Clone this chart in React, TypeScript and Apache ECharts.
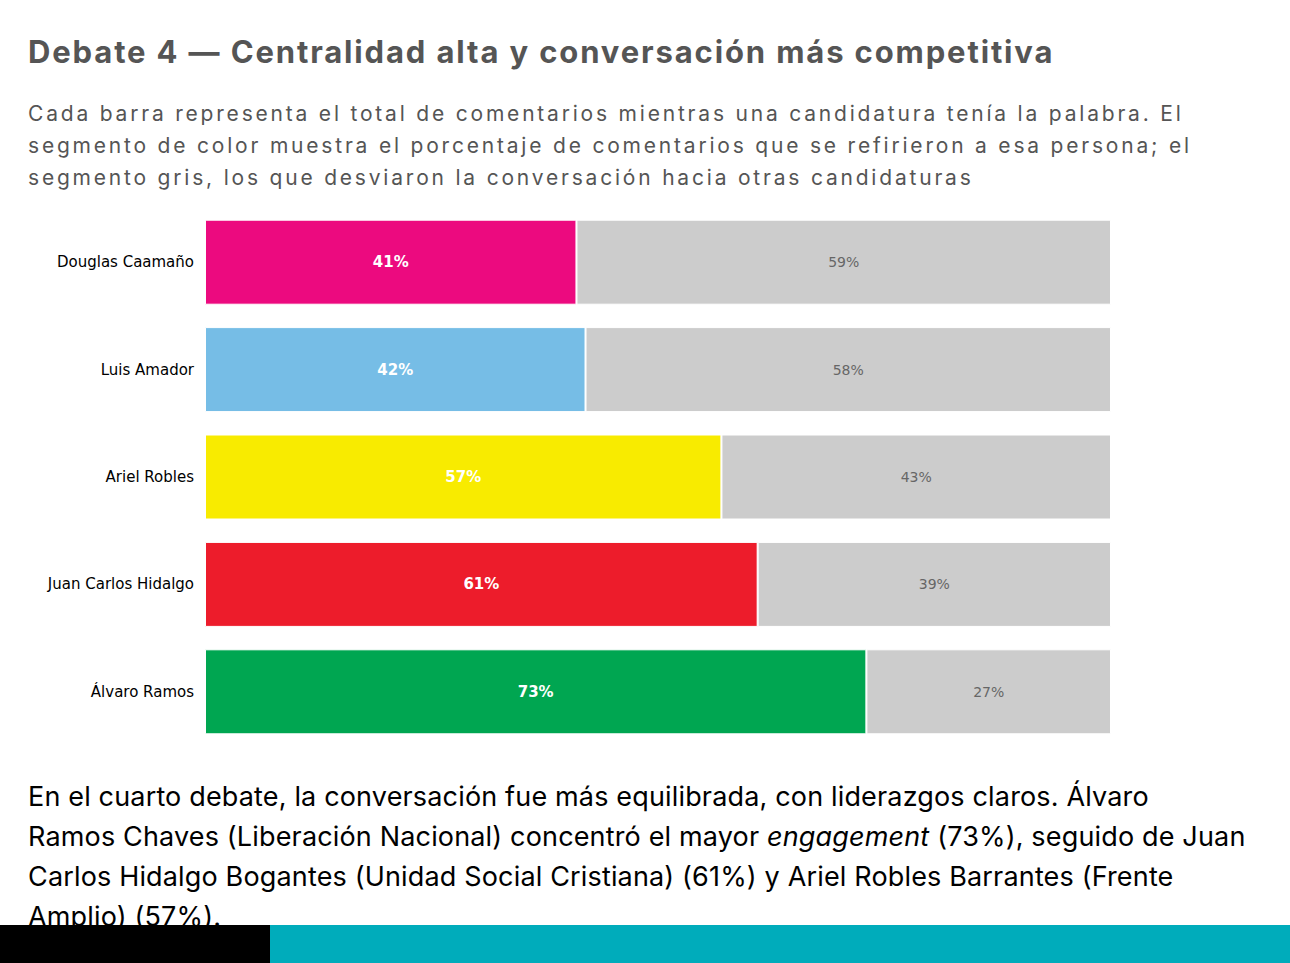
import React, { useEffect, useRef } from "react";
import * as echarts from "echarts";

const candidates = [
  "Douglas Caamaño",
  "Luis Amador",
  "Ariel Robles",
  "Juan Carlos Hidalgo",
  "Álvaro Ramos",
];
const ownShare = [41, 42, 57, 61, 73];
const otherShare = [59, 58, 43, 39, 27];
const partyColors = ["#EC0A7F", "#76BDE6", "#F8EB00", "#ED1C2B", "#00A651"];
const grey = "#CCCCCC";

const titleText = "Debate 4 — Centralidad alta y conversación más competitiva";
const subtitleLines = [
  "Cada barra representa el total de comentarios mientras una candidatura tenía la palabra. El",
  "segmento de color muestra el porcentaje de comentarios que se refirieron a esa persona; el",
  "segmento gris, los que desviaron la conversación hacia otras candidaturas",
];

export default function App() {
  const ref = useRef<HTMLDivElement>(null);

  useEffect(() => {
    if (!ref.current) return;
    const chart = echarts.init(ref.current, undefined, { renderer: "svg" });
    chart.setOption({
      animation: false,
      grid: { left: 205, right: 179, top: 208.5, bottom: 963 - 745.5 },
      xAxis: { type: "value", min: 0, max: 100, show: false },
      yAxis: {
        type: "category",
        inverse: true,
        data: candidates,
        axisLine: { show: false },
        axisTick: { show: false },
        axisLabel: {
          margin: 11,
          color: "#000",
          fontFamily: "DejaVu Sans",
          fontSize: 15,
        },
      },
      series: [
        {
          type: "bar",
          stack: "total",
          barWidth: 85,
          data: ownShare.map((v, i) => ({
            value: v,
            itemStyle: { color: partyColors[i] },
          })),
          itemStyle: { borderColor: "#fff", borderWidth: 1 },
          label: {
            show: true,
            position: "inside",
            formatter: "{c}%",
            color: "#fff",
            fontWeight: "bold",
            fontFamily: "DejaVu Sans",
            fontSize: 15,
          },
        },
        {
          type: "bar",
          stack: "total",
          barWidth: 85,
          data: otherShare,
          itemStyle: { color: grey, borderColor: "#fff", borderWidth: 1 },
          label: {
            show: true,
            position: "inside",
            formatter: "{c}%",
            color: "#666",
            fontFamily: "DejaVu Sans",
            fontSize: 14,
          },
        },
      ],
    });
    return () => chart.dispose();
  }, []);

  return (
    <div
      style={{
        position: "absolute",
        left: 0,
        top: 0,
        width: 1290,
        height: 963,
        overflow: "hidden",
        background: "#fff",
      }}
    >
      <div
        style={{
          position: "absolute",
          left: 28,
          top: 32,
          fontFamily: "Inter, 'Noto Sans', sans-serif",
          fontWeight: 700,
          fontSize: 31,
          letterSpacing: 1.86,
          color: "#555",
          whiteSpace: "nowrap",
          lineHeight: "40px",
        }}
      >
        {titleText}
      </div>
      <div
        style={{
          position: "absolute",
          left: 28,
          top: 98,
          fontFamily: "Inter, 'Noto Sans', sans-serif",
          fontSize: 21,
          letterSpacing: 2.8,
          color: "#555",
          whiteSpace: "nowrap",
          lineHeight: "32px",
        }}
      >
        {subtitleLines.map((l, i) => (
          <div key={i}>{l}</div>
        ))}
      </div>
      <div
        ref={ref}
        style={{ position: "absolute", left: 0, top: 0, width: 1290, height: 963 }}
      />
      <div
        style={{
          position: "absolute",
          left: 28,
          top: 777,
          fontFamily: "Inter, 'Noto Sans', sans-serif",
          fontSize: 27,
          letterSpacing: 0.16,
          color: "#000",
          whiteSpace: "nowrap",
          lineHeight: "40px",
        }}
      >
        <div>
          En el cuarto debate, la conversación fue más equilibrada, con liderazgos claros. Álvaro
        </div>
        <div>
          Ramos Chaves (Liberación Nacional) concentró el mayor <i>engagement</i> (73%), seguido de Juan
        </div>
        <div>Carlos Hidalgo Bogantes (Unidad Social Cristiana) (61%) y Ariel Robles Barrantes (Frente</div>
        <div>Amplio) (57%).</div>
      </div>
      <div
        style={{ position: "absolute", left: 0, top: 925, width: 270, height: 38, background: "#000" }}
      />
      <div
        style={{
          position: "absolute",
          left: 270,
          top: 925,
          width: 1020,
          height: 38,
          background: "#00ACBB",
        }}
      />
    </div>
  );
}
